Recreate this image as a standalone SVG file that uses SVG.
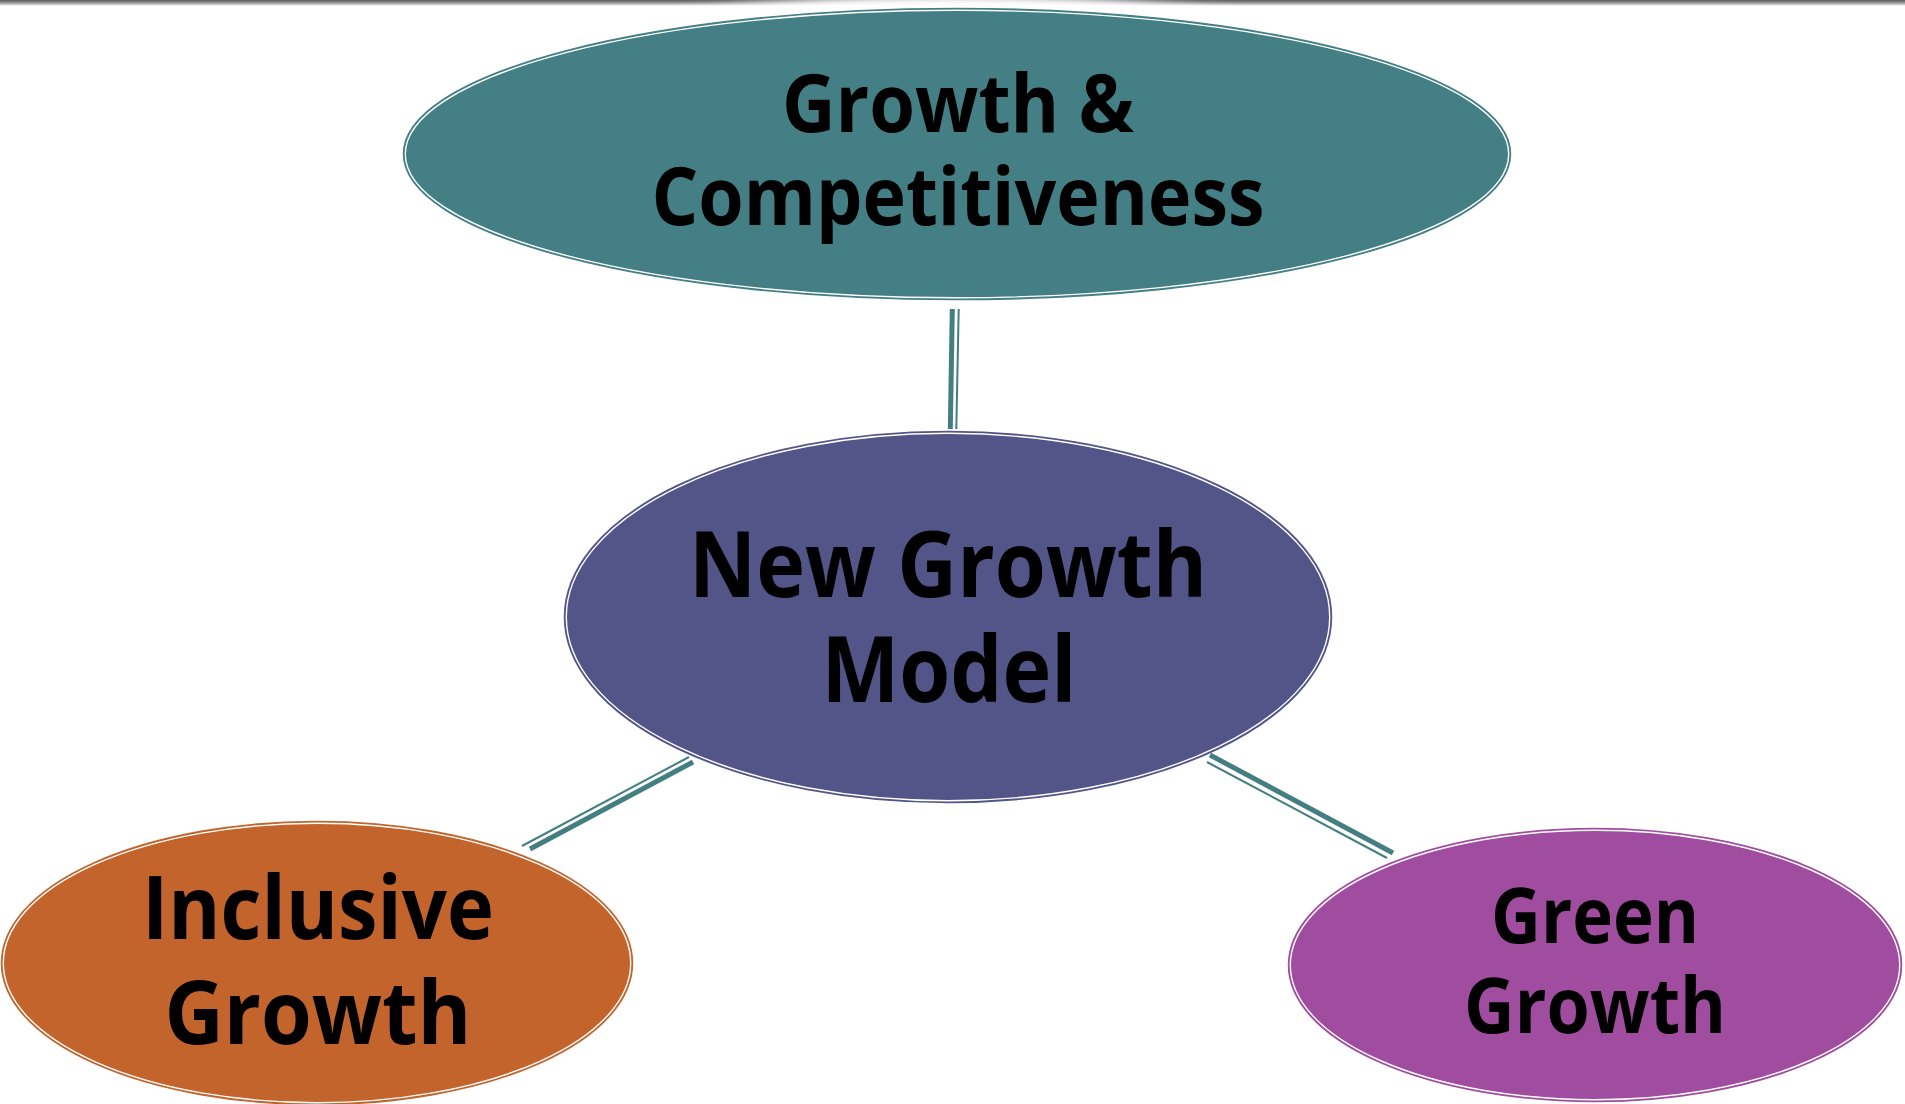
<svg xmlns="http://www.w3.org/2000/svg" width="1905" height="1104" viewBox="0 0 1905 1104">
  <defs>
    <linearGradient id="topbar" x1="0" y1="0" x2="0" y2="1">
      <stop offset="0" stop-color="#5a5a5a"/>
      <stop offset="0.5" stop-color="#9a9a9a"/>
      <stop offset="1" stop-color="#ffffff"/>
    </linearGradient>
    <filter id="halo" x="-10%" y="-20%" width="120%" height="140%">
      <feGaussianBlur stdDeviation="6"/>
    </filter>
  </defs>
  <style>
    .lbl { font-family: "Open Sans", "Liberation Sans", sans-serif; font-weight: bold; fill: #000000; text-anchor: middle; }
    .rim { fill: none; stroke: #ffffff; stroke-width: 1.4; }
    .thick { stroke: #437F82; stroke-width: 5; stroke-linecap: butt; }
    .thin { stroke: #437F82; stroke-width: 2; stroke-linecap: butt; }
  </style>
  <rect x="0" y="0" width="1905" height="1104" fill="#ffffff"/>
  <rect x="0" y="0" width="1905" height="6" fill="url(#topbar)"/>
  <ellipse cx="957" cy="154" rx="572" ry="160" fill="#ffffff" filter="url(#halo)"/>

  <g id="connectors">
    <line class="thick" x1="952.3" y1="309" x2="950.3" y2="429"/>
    <line class="thin" x1="958.7" y1="309" x2="956.3" y2="429"/>
    <line class="thick" x1="693" y1="762" x2="530" y2="849"/>
    <line class="thin" x1="689" y1="757" x2="522" y2="846"/>
    <line class="thick" x1="1210" y1="755" x2="1393" y2="853"/>
    <line class="thin" x1="1207" y1="762" x2="1387" y2="858"/>
  </g>

  <g id="node-growth-competitiveness">
    <ellipse cx="957" cy="154" rx="552" ry="144" fill="#437F84" stroke="#437F84" stroke-width="4.5"/>
    <ellipse class="rim" cx="957" cy="154" rx="551.7" ry="143.7"/>
    <text class="lbl" x="958" y="132" font-size="80" textLength="352" lengthAdjust="spacingAndGlyphs">Growth &amp;</text>
    <text class="lbl" x="958" y="225" font-size="80" textLength="613" lengthAdjust="spacingAndGlyphs">Competitiveness</text>
  </g>

  <g id="node-new-growth-model">
    <ellipse cx="948" cy="617" rx="382" ry="184" fill="#535488" stroke="#535488" stroke-width="4.5"/>
    <ellipse class="rim" cx="948" cy="617" rx="381.7" ry="183.7"/>
    <text class="lbl" x="948" y="597" font-size="92" textLength="518" lengthAdjust="spacingAndGlyphs">New Growth</text>
    <text class="lbl" x="949" y="702" font-size="92" textLength="255" lengthAdjust="spacingAndGlyphs">Model</text>
  </g>

  <g id="node-inclusive-growth">
    <ellipse cx="317" cy="963" rx="314" ry="140" fill="#C4642D" stroke="#C4642D" stroke-width="4.5"/>
    <ellipse class="rim" cx="317" cy="963" rx="313.7" ry="139.7"/>
    <text class="lbl" x="318" y="939" font-size="88" textLength="352" lengthAdjust="spacingAndGlyphs">Inclusive</text>
    <text class="lbl" x="318" y="1044" font-size="88" textLength="307" lengthAdjust="spacingAndGlyphs">Growth</text>
  </g>

  <g id="node-green-growth">
    <ellipse cx="1595" cy="965" rx="305" ry="135" fill="#A04DA0" stroke="#A04DA0" stroke-width="4.5"/>
    <ellipse class="rim" cx="1595" cy="965" rx="304.7" ry="134.7"/>
    <text class="lbl" x="1595" y="943" font-size="77" textLength="208" lengthAdjust="spacingAndGlyphs">Green</text>
    <text class="lbl" x="1595" y="1033" font-size="77" textLength="262" lengthAdjust="spacingAndGlyphs">Growth</text>
  </g>
</svg>
